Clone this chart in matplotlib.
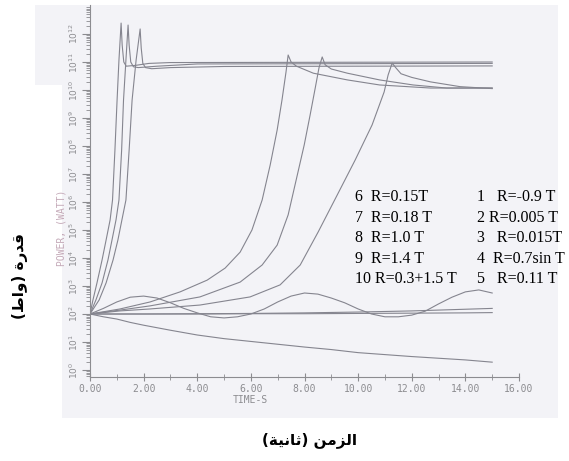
import numpy as np
import matplotlib
matplotlib.use("Agg")
import matplotlib.pyplot as plt
from matplotlib.patches import Polygon

# time (s) and log10 of power (W) for each reactivity ramp
t1 = [0, 0.5, 1, 1.5, 2, 3, 4, 5, 6, 7, 8, 9, 10, 11, 12, 13, 14, 15]
p1 = [2.0, 1.9, 1.82, 1.7, 1.6, 1.42, 1.25, 1.12, 1.02, 0.92, 0.82, 0.73, 0.62, 0.55, 0.48, 0.42, 0.36, 0.28]

t2 = [0, 2, 4, 6, 8, 10, 12, 14, 15]
p2 = [2.0, 2.0, 2.01, 2.02, 2.04, 2.07, 2.11, 2.17, 2.2]

t3 = [0, 2, 4, 6, 8, 10, 12, 14, 15]
p3 = [2.0, 2.0, 2.0, 2.01, 2.01, 2.02, 2.03, 2.04, 2.05]

t4 = [0, 0.5, 1, 1.5, 2, 2.5, 3, 3.5, 4, 4.5, 5, 5.5, 6, 6.5, 7, 7.5, 8, 8.5, 9, 9.5,
      10, 10.5, 11, 11.5, 12, 12.5, 13, 13.5, 14, 14.5, 15]
p4 = [2.0, 2.2, 2.43, 2.6, 2.64, 2.57, 2.4, 2.2, 2.04, 1.9, 1.86, 1.9, 2.0, 2.18, 2.43, 2.64,
      2.75, 2.71, 2.57, 2.4, 2.18, 2.0, 1.9, 1.9, 1.96, 2.1, 2.36, 2.6, 2.79, 2.86, 2.75]

t5 = [0, 1.12, 2.24, 4.1, 5.97, 7.09, 7.84, 8.51, 9.22, 9.89, 10.52, 10.97, 11.12, 11.27,
      11.4, 11.6, 12.0, 12.7, 13.8, 15]
p5 = [2.0, 2.11, 2.18, 2.32, 2.61, 3.04, 3.75, 4.93, 6.25, 7.5, 8.75, 9.93, 10.54, 10.96,
      10.8, 10.58, 10.45, 10.29, 10.12, 10.05]

t6 = [0, 1.12, 2.24, 4.1, 5.6, 6.42, 6.98, 7.39, 7.69, 7.99, 8.21, 8.4, 8.54, 8.66,
      8.77, 9.0, 9.6, 10.8, 12.05, 13.3, 15]
p6 = [2.0, 2.14, 2.29, 2.61, 3.14, 3.75, 4.46, 5.54, 6.79, 8.04, 9.11, 10.07, 10.79, 11.18,
      10.9, 10.75, 10.6, 10.36, 10.18, 10.07, 10.07]

t7 = [0, 1.12, 2.24, 3.36, 4.37, 5.04, 5.6, 6.04, 6.42, 6.72, 6.98, 7.16, 7.31, 7.39,
      7.5, 7.7, 8.33, 9.6, 10.8, 12.7, 15]
p7 = [2.0, 2.18, 2.43, 2.79, 3.21, 3.64, 4.21, 5.0, 6.07, 7.32, 8.57, 9.64, 10.64, 11.25,
      11.0, 10.85, 10.6, 10.36, 10.18, 10.07, 10.07]

t8 = [0, 0.34, 0.6, 0.86, 1.04, 1.19, 1.34, 1.46, 1.57, 1.72, 1.87,
      1.91, 1.97, 2.07, 2.3, 3, 5, 15]
p8 = [2.0, 2.5, 3.11, 3.93, 4.64, 5.36, 6.07, 7.86, 9.64, 11.07, 12.18,
      11.5, 10.95, 10.8, 10.76, 10.8, 10.84, 10.86]

t9 = [0, 0.22, 0.45, 0.67, 0.82, 0.97, 1.08, 1.18, 1.25, 1.34, 1.42,
      1.46, 1.52, 1.62, 1.8, 2.5, 4, 15]
p9 = [2.0, 2.5, 3.11, 3.93, 4.64, 5.36, 6.07, 7.86, 9.64, 11.07, 12.32,
      11.6, 11.0, 10.83, 10.8, 10.85, 10.93, 10.95]

t10 = [0, 0.11, 0.26, 0.45, 0.6, 0.75, 0.84, 0.93, 1.01, 1.08, 1.16,
       1.2, 1.26, 1.35, 1.7, 2.2, 3, 15]
p10 = [2.0, 2.5, 3.11, 3.93, 4.64, 5.36, 6.07, 7.86, 9.64, 11.07, 12.39,
       11.6, 11.0, 10.85, 10.88, 10.95, 10.98, 11.0]

left_labels = ["6  R=0.15T", "7  R=0.18 T", "8  R=1.0 T", "9  R=1.4 T", "10 R=0.3+1.5 T"]
right_labels = ["1   R=-0.9 T", "2 R=0.005 T", "3   R=0.015T", "4  R=0.7sin T", "5   R=0.11 T"]

xticks = [0, 2, 4, 6, 8, 10, 12, 14, 16]
decades = list(range(0, 13))

# arabic captions, pre-shaped in visual order
xlabel_ar = "(\uFE94\uFEF4\uFEE7\uFE8E\uFE9B) \uFEE6\uFEE3\uFEB0\uFEDF\uFE8D"
ylabel_ar = "(\uFEC1\uFE8D\uFEED) \uFE93\uFEAD\uFEAA\uFED7"

W, H = 569, 461
fig = plt.figure(figsize=(W / 100, H / 100), dpi=100)
fig.patch.set_facecolor("white")

# scanned sheet behind the plot
sheet = Polygon([(35 / W, 1 - 5 / H), (558 / W, 1 - 5 / H), (558 / W, 1 - 418 / H),
                 (62 / W, 1 - 418 / H), (62 / W, 1 - 85 / H), (35 / W, 1 - 85 / H)],
                closed=True, transform=fig.transFigure, facecolor="#f3f3f7",
                edgecolor="none", zorder=-5)
fig.patches.append(sheet)

ax = fig.add_axes([90 / W, 1 - 377 / H, 429 / W, 372.4 / H])
ax.set_facecolor("none")
ax.set_zorder(2)

line_color = "#85858f"
curves = [(t1, p1), (t2, p2), (t3, p3), (t4, p4), (t5, p5),
          (t6, p6), (t7, p7), (t8, p8), (t9, p9), (t10, p10)]
for tt, pp in curves:
    ax.plot(tt, 10.0 ** np.array(pp), color=line_color, lw=0.8)

ax.set_yscale("log")
ax.set_xlim(0, 16)
ax.set_ylim(10 ** -0.25, 10 ** 13.05)

gray = "#8c8c90"
for s in ["top", "right"]:
    ax.spines[s].set_visible(False)
for s in ["left", "bottom"]:
    ax.spines[s].set_color(gray)
    ax.spines[s].set_linewidth(0.8)

ax.set_xticks(xticks)
ax.set_xticklabels([f"{v:.2f}" for v in xticks], family="DejaVu Sans Mono",
                   fontsize=7, color=gray)
ax.set_xticks(np.arange(0, 16.5, 1), minor=True)
ax.tick_params(axis="x", which="major", direction="inout", length=6, color=gray, pad=2)
ax.tick_params(axis="x", which="minor", direction="inout", length=4, color=gray)

ax.yaxis.set_major_locator(matplotlib.ticker.FixedLocator([10.0 ** d for d in decades]))
ax.yaxis.set_minor_locator(matplotlib.ticker.LogLocator(base=10, subs=np.arange(2, 10), numticks=30))
ax.yaxis.set_minor_formatter(matplotlib.ticker.NullFormatter())
ax.set_yticklabels([f"$10^{{{d}}}$" for d in decades], rotation=90, va="center",
                   fontsize=6.5, color=gray)
ax.tick_params(axis="y", which="major", direction="out", length=6, color=gray, pad=1)
ax.tick_params(axis="y", which="minor", direction="out", length=3, color=gray, width=0.6)

fig.text(61 / W, 1 - 228 / H, "POWER, (WATT)", rotation=90, ha="center", va="center",
         family="DejaVu Sans Mono", fontsize=7, color="#c4a9b8")
fig.text(250 / W, 1 - 400 / H, "TIME-S", ha="center", va="center",
         family="DejaVu Sans Mono", fontsize=7, color=gray)

for i, lab in enumerate(left_labels):
    fig.text(355 / W, 1 - (197 + 20.5 * i) / H, lab, ha="left", va="center",
             family="Liberation Serif", fontsize=11.5, color="black")
for i, lab in enumerate(right_labels):
    fig.text(477 / W, 1 - (197 + 20.5 * i) / H, lab, ha="left", va="center",
             family="Liberation Serif", fontsize=11.5, color="black")

fig.text(310 / W, 1 - 440 / H, xlabel_ar, ha="center", va="center",
         family="DejaVu Sans", fontweight="bold", fontsize=11)
fig.text(20 / W, 1 - 276 / H, ylabel_ar, ha="center", va="center", rotation=90,
         family="DejaVu Sans", fontweight="bold", fontsize=11)

fig.savefig("out.png", dpi=100)
